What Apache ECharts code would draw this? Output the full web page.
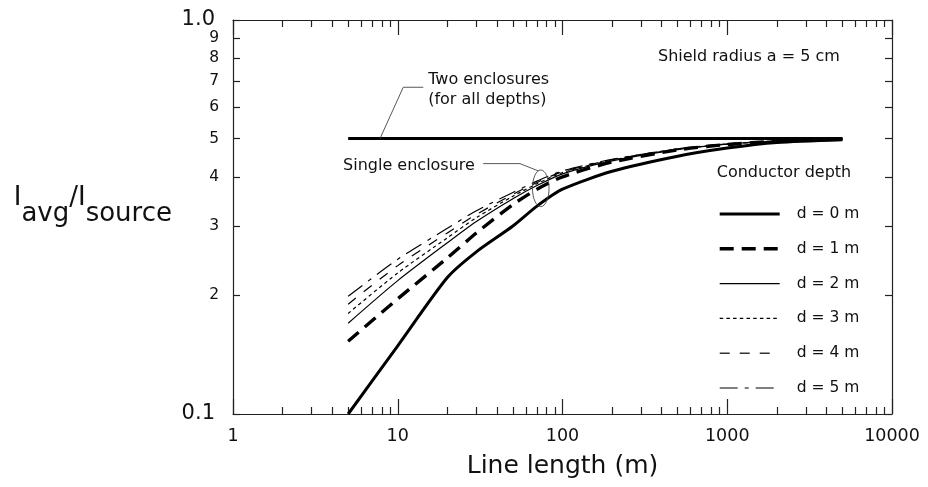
<!DOCTYPE html>
<html>
<head>
<meta charset="utf-8">
<title>Average current vs line length</title>
<script src="https://cdn.jsdelivr.net/npm/echarts@6/dist/echarts.min.js"></script>
<style>
  html, body { margin: 0; padding: 0; background: #fff; }
  #chart { width: 928px; height: 487px; }
</style>
</head>
<body>
<div id="chart"></div>
<script>
// Line length samples (m)
const lineLength = [5, 10, 20, 30, 50, 70, 100, 200, 500, 1000, 2000, 5000];

// Iavg / Isource for a single enclosure, one array per conductor depth
const depth0 = [0.100, 0.149, 0.222, 0.258, 0.300, 0.337, 0.372, 0.413, 0.451, 0.473, 0.489, 0.497];
const depth1 = [0.153, 0.196, 0.249, 0.288, 0.340, 0.372, 0.400, 0.436, 0.468, 0.483, 0.492, 0.499];
const depth2 = [0.170, 0.218, 0.272, 0.308, 0.352, 0.380, 0.407, 0.439, 0.469, 0.484, 0.493, 0.499];
const depth3 = [0.180, 0.228, 0.280, 0.315, 0.357, 0.384, 0.410, 0.441, 0.470, 0.484, 0.493, 0.499];
const depth4 = [0.190, 0.238, 0.288, 0.321, 0.361, 0.387, 0.412, 0.442, 0.471, 0.485, 0.493, 0.499];
const depth5 = [0.199, 0.247, 0.296, 0.328, 0.365, 0.390, 0.414, 0.443, 0.471, 0.485, 0.493, 0.499];

// Two enclosures: the same value for all depths
const twoEnclosureLength = [5, 5000];
const twoEnclosureValue = [0.5, 0.5];

const depthNames = ['d = 0 m', 'd = 1 m', 'd = 2 m', 'd = 3 m', 'd = 4 m', 'd = 5 m'];

// Axis ticks and labels
const xTickValues = [1, 10, 100, 1000, 10000];
const xTickLabels = ['1', '10', '100', '1000', '10000'];
const yTickValues = [0.1, 0.2, 0.3, 0.4, 0.5, 0.6, 0.7, 0.8, 0.9, 1.0];
const yTickLabels = ['0.1', '2', '3', '4', '5', '6', '7', '8', '9', '1.0'];

// Minor ticks at 2..9 within each decade of the length axis
const xMinorTicks = [];
for (let dec = 1; dec < 10000; dec *= 10) {
  for (let m = 2; m <= 9; m++) xMinorTicks.push(m * dec);
}

const FONT = 'DejaVu Sans';
const INK = '#111';
const AXIS = '#222';

function pairs(xs, ys) {
  return xs.map((x, i) => [x, ys[i]]);
}

function labelFor(values, labels, v) {
  const i = values.findIndex(t => Math.abs(t - v) < 1e-6 * Math.max(1, t));
  return i >= 0 ? labels[i] : '';
}

const axisLineStyle = { color: AXIS, width: 1.2 };

function logX(position, major, showLine, showLabel) {
  const ax = {
    type: 'log', logBase: 10, min: 1, max: 10000, position: position,
    axisLine: { show: showLine, lineStyle: axisLineStyle },
    axisTick: {
      show: true, inside: true, length: major ? 15 : 7,
      customValues: major ? xTickValues : xMinorTicks,
      lineStyle: axisLineStyle
    },
    axisLabel: { show: false },
    splitLine: { show: false },
    minorTick: { show: false },
    minorSplitLine: { show: false }
  };
  if (showLabel) {
    ax.axisLabel = {
      show: true,
      customValues: xTickValues,
      showMinLabel: true, showMaxLabel: true,
      margin: 13,
      fontFamily: FONT, fontSize: 17.5, color: INK,
      formatter: v => labelFor(xTickValues, xTickLabels, v)
    };
    ax.name = 'Line length (m)';
    ax.nameLocation = 'middle';
    ax.nameGap = 40;
    ax.nameTextStyle = { fontFamily: FONT, fontSize: 25, color: INK };
  }
  return ax;
}

// Tick labels: the decade ends use the larger style, the digits in between the smaller one
const yLabelRich = {
  big: { fontFamily: FONT, fontSize: 21, color: INK, padding: [0, 4, 0, 0] },
  sm: { fontFamily: FONT, fontSize: 15.5, color: INK }
};
function yLabelFormatter(v) {
  const s = labelFor(yTickValues, yTickLabels, v);
  return s.indexOf('.') >= 0 ? '{big|' + s + '}' : '{sm|' + s + '}';
}

function logY(position, opts) {
  const ax = {
    type: 'log', logBase: 10, min: 0.1, max: 1, position: position,
    axisLine: { show: opts.line, lineStyle: axisLineStyle },
    axisTick: {
      show: opts.ticks, inside: true, length: 7,
      customValues: yTickValues, lineStyle: axisLineStyle
    },
    axisLabel: { show: false },
    splitLine: { show: false },
    minorTick: { show: false },
    minorSplitLine: { show: false }
  };
  if (opts.labels) {
    ax.axisLabel = {
      show: true,
      customValues: opts.labels,
      showMinLabel: true, showMaxLabel: true,
      margin: 14,
      formatter: yLabelFormatter,
      rich: yLabelRich
    };
  }
  if (opts.title) {
    ax.name = '{hi|I}{lo|avg}{hi|/I}{lo|source}';
    ax.nameLocation = 'middle';
    ax.nameRotate = 0;
    ax.nameGap = 61;
    ax.nameTextStyle = {
      fontFamily: FONT, fontSize: 26, color: INK,
      padding: [0, 0, 8, 0],
      rich: {
        hi: { fontFamily: FONT, fontSize: 26, color: INK, lineHeight: 28, padding: [0, 0, 16, 0], verticalAlign: 'bottom' },
        lo: { fontFamily: FONT, fontSize: 26, color: INK, lineHeight: 28, verticalAlign: 'bottom' }
      }
    };
  }
  return ax;
}

const depthStyles = [
  { width: 3, type: 'solid' },
  { width: 3.4, type: [14, 8] },
  { width: 1.2, type: 'solid' },
  { width: 1.2, type: [3.5, 3.2] },
  { width: 1.2, type: [10, 10] },
  { width: 1.2, type: [18, 7, 4, 7] }
];
const depthData = [depth0, depth1, depth2, depth3, depth4, depth5];

const series = depthData.map((vals, i) => ({
  name: depthNames[i],
  type: 'line',
  xAxisIndex: 0, yAxisIndex: 0,
  data: pairs(lineLength, vals),
  symbol: 'none',
  showSymbol: false,
  smooth: 0.25,
  itemStyle: { color: 'rgba(0,0,0,0)', borderWidth: 0 },
  lineStyle: { color: '#000', width: depthStyles[i].width, type: depthStyles[i].type, cap: 'butt' },
  z: 3 + (5 - i)
}));

series.push({
  name: 'Two enclosures',
  type: 'line',
  xAxisIndex: 0, yAxisIndex: 0,
  data: pairs(twoEnclosureLength, twoEnclosureValue),
  symbol: 'none',
  showSymbol: false,
  itemStyle: { color: 'rgba(0,0,0,0)' },
  lineStyle: { color: '#000', width: 3, type: 'solid' },
  z: 3
});

const option = {
  animation: false,
  backgroundColor: '#fff',
  grid: { left: 233, right: 36, top: 20, bottom: 73, containLabel: false },
  xAxis: [
    logX('bottom', true, true, true),
    logX('bottom', false, false, false),
    logX('top', true, true, false),
    logX('top', false, false, false)
  ],
  yAxis: [
    // left axis: line, ticks, labels 0.1 .. 9 and the axis title
    logY('left', { line: true, ticks: true, labels: yTickValues.filter(v => v < 1), title: true }),
    // right frame with inward ticks
    logY('right', { line: true, ticks: true }),
    // the top "1.0" label on its own so it is never dropped next to "9"
    logY('left', { line: false, ticks: false, labels: yTickValues.filter(v => v >= 1) })
  ],
  legend: {
    data: depthNames,
    orient: 'vertical',
    left: 713, top: 201,
    itemWidth: 60, itemHeight: 16, itemGap: 18.8,
    itemStyle: { color: 'rgba(0,0,0,0)', borderWidth: 0, opacity: 0 },
    lineStyle: { width: 'inherit', type: 'inherit', color: 'inherit' },
    textStyle: { fontFamily: FONT, fontSize: 15.5, color: INK, lineHeight: 16, padding: [0, 0, 0, 12] },
    selectedMode: false
  },
  series: series
};

const chart = echarts.init(document.getElementById('chart'), null, { renderer: 'canvas' });
chart.setOption(option);

// Annotations anchored in data space (length, ratio)
const notes = {
  twoText: [15.3, 0.664],
  twoLeader: [[14.3, 0.675], [10.8, 0.675], [7.8, 0.5]],
  singleText: [29.4, 0.427],
  singleLeader: [[33.0, 0.432], [55.2, 0.432], [71.3, 0.414]],
  singleEllipse: [73.8, 0.374],
  shieldText: [380, 0.807],
  depthTitle: [863, 0.41]
};

function px(p) {
  return chart.convertToPixel({ xAxisIndex: 0, yAxisIndex: 0 }, p);
}

const leaderStyle = { stroke: '#444', lineWidth: 0.9, fill: null };
const textStyle = (p, text, align) => ({
  type: 'text',
  x: px(p)[0], y: px(p)[1],
  style: {
    text: text, fill: INK, fontFamily: FONT, fontSize: 16,
    align: align, verticalAlign: 'middle', lineHeight: 20
  },
  z: 20
});

const e = px(notes.singleEllipse);
chart.setOption({
  graphic: [
    textStyle(notes.twoText, 'Two enclosures\n(for all depths)', 'left'),
    { type: 'polyline', shape: { points: notes.twoLeader.map(px) }, style: leaderStyle, z: 20 },
    textStyle(notes.singleText, 'Single enclosure', 'right'),
    { type: 'polyline', shape: { points: notes.singleLeader.map(px) }, style: leaderStyle, z: 20 },
    { type: 'ellipse', shape: { cx: e[0], cy: e[1], rx: 8.3, ry: 18.3 }, style: leaderStyle, z: 20 },
    textStyle(notes.shieldText, 'Shield radius a = 5 cm', 'left'),
    textStyle(notes.depthTitle, 'Conductor depth', 'left')
  ]
});
</script>
</body>
</html>
